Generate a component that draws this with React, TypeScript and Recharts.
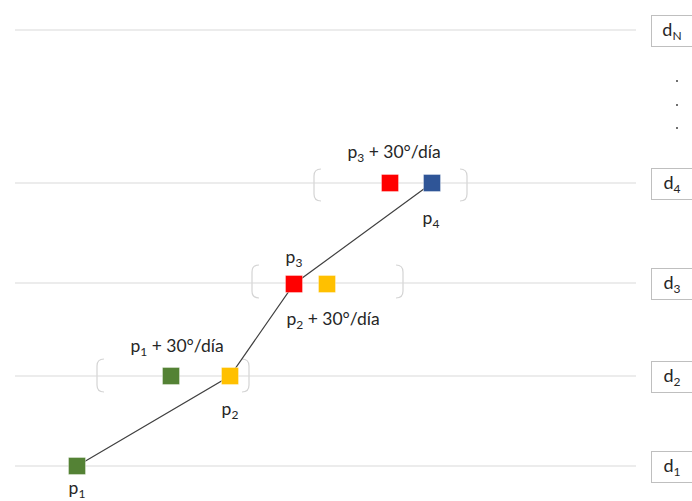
import { ScatterChart, Scatter, XAxis, YAxis, ReferenceLine, ReferenceArea } from "recharts";

// diagram coordinates: x across the day, y down the page (axis reversed)
const dayRows = ["1", "2", "3", "4", "N"];
const rowLevels = [466, 376, 283, 183, 30];

const route = [
  { x: 77, y: 466 },
  { x: 230, y: 376 },
  { x: 294, y: 284 },
  { x: 432, y: 183 },
];

const squares = [
  { x: 77, y: 466, kind: "p1" },
  { x: 171, y: 376, kind: "p1" },
  { x: 230, y: 376, kind: "p2" },
  { x: 294, y: 284, kind: "p3" },
  { x: 327, y: 284, kind: "p2" },
  { x: 390, y: 183, kind: "p3" },
  { x: 432, y: 183, kind: "p4" },
];

const windows = [
  { x1: 97, x2: 249, y1: 359, y2: 392 },
  { x1: 252, x2: 403, y1: 265, y2: 298 },
  { x1: 314, x2: 467, y1: 169, y2: 201 },
];

const pointLabels = [
  { x: 77, y: 494, sub: "1", rest: "" },
  { x: 177, y: 352, sub: "1", rest: " + 30°/día" },
  { x: 230, y: 415, sub: "2", rest: "" },
  { x: 294, y: 263, sub: "3", rest: "" },
  { x: 333, y: 325, sub: "2", rest: " + 30°/día" },
  { x: 394, y: 158, sub: "3", rest: " + 30°/día" },
  { x: 431, y: 224, sub: "4", rest: "" },
];

const ellipsis = [{ x: 677, y: 81 }, { x: 677, y: 105 }, { x: 677, y: 128 }];

const colors: Record<string, string> = {
  p1: "#548235",
  p2: "#FFC000",
  p3: "#FF0000",
  p4: "#2F5597",
};

const font = "Lato, 'Noto Sans', sans-serif";
const SQ = 17;

const Square = (props: any) => {
  const { cx, cy, payload } = props;
  return (
    <rect
      x={cx - SQ / 2}
      y={cy - SQ / 2}
      width={SQ}
      height={SQ}
      fill={colors[payload.kind]}
      stroke="#ffffff"
      strokeOpacity={0.35}
      strokeWidth={1}
    />
  );
};

const SubLabel = (props: any) => {
  const { cx, cy, payload } = props;
  return (
    <text x={cx} y={cy} textAnchor="middle" fontFamily={font} fontSize={17.5} fill="#262626">
      p
      <tspan fontSize={12} dy={3.5}>{payload.sub}</tspan>
      <tspan dy={-3.5}>{payload.rest}</tspan>
    </text>
  );
};

const Bracket = (props: any) => {
  const { x, y, width, height } = props;
  const r = 7;
  const right = x + width;
  const bottom = y + height;
  return (
    <g fill="none" stroke="#d4d4d4" strokeWidth={1.2}>
      <path d={`M${x + r},${y} Q${x},${y} ${x},${y + r} L${x},${bottom - r} Q${x},${bottom} ${x + r},${bottom}`} />
      <path d={`M${right - r},${y} Q${right},${y} ${right},${y + r} L${right},${bottom - r} Q${right},${bottom} ${right - r},${bottom}`} />
    </g>
  );
};

const DayBox = (props: any) => {
  const { x, y, width, height } = props;
  return <rect x={x + 0.5} y={y + 0.5} width={width} height={height} fill="#ffffff" stroke="#bfbfbf" strokeWidth={1} />;
};

const rowLabelData = rowLevels.map((y, i) => ({ x: 672, y: y + 6, sub: dayRows[i] }));

const RowLabel = (props: any) => {
  const { cx, cy, payload } = props;
  return (
    <text x={cx} y={cy} textAnchor="middle" fontFamily={font} fontSize={18} fill="#262626">
      d
      <tspan fontSize={12} dy={4}>{payload.sub}</tspan>
    </text>
  );
};

const Dot = (props: any) => <circle cx={props.cx} cy={props.cy} r={1} fill="#404040" />;
const Nothing = () => <g />;

export default function App() {
  return (
    <div style={{ position: "absolute", left: 0, top: 0, background: "#fff" }}>
      <ScatterChart width={692} height={501} margin={{ top: 0, right: 0, bottom: 0, left: 0 }}>
        <XAxis type="number" dataKey="x" domain={[0, 692]} hide />
        <YAxis type="number" dataKey="y" domain={[0, 501]} reversed hide />
        {rowLevels.map((y) => (
          <ReferenceLine
            key={"l" + y}
            segment={[{ x: 15, y }, { x: 636, y }]}
            stroke="#d9d9d9"
            strokeWidth={1.2}
          />
        ))}
        {windows.map((w, i) => (
          <ReferenceArea key={"w" + i} x1={w.x1} x2={w.x2} y1={w.y1} y2={w.y2} shape={Bracket} />
        ))}
        {rowLevels.map((y) => (
          <ReferenceArea key={"b" + y} x1={651} x2={692} y1={y - 15} y2={y + 16} shape={DayBox} />
        ))}
        <Scatter data={route} line={{ stroke: "#404040", strokeWidth: 1.2 }} shape={Nothing} isAnimationActive={false} />
        <Scatter data={squares} shape={Square} isAnimationActive={false} />
        <Scatter data={pointLabels} shape={SubLabel} isAnimationActive={false} />
        <Scatter data={rowLabelData} shape={RowLabel} isAnimationActive={false} />
        <Scatter data={ellipsis} shape={Dot} isAnimationActive={false} />
      </ScatterChart>
    </div>
  );
}
